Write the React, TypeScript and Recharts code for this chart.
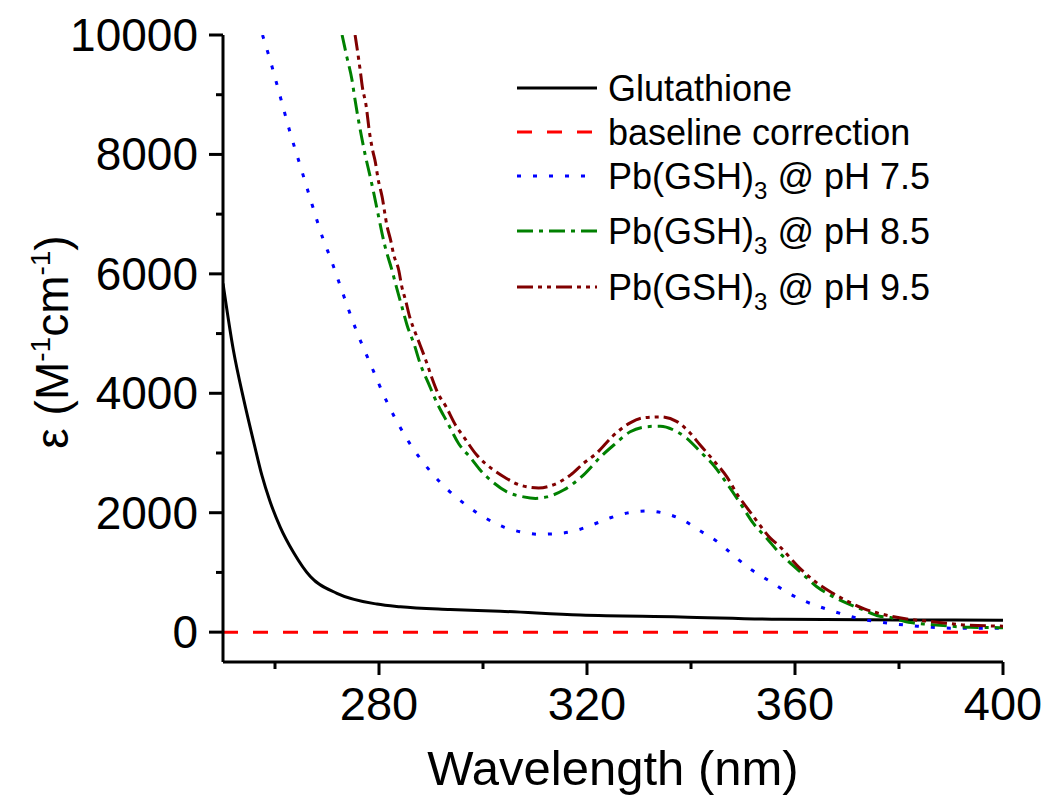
import { LineChart, Line, XAxis, YAxis } from "recharts";

// Glutathione (black solid)
const glutWl = [250, 252, 254, 256, 257.5, 259, 261, 263.6, 266.8, 271.9, 279.6, 284.1, 293.7, 303.3, 318.7, 338, 357.2, 380, 400];
const glutEps = [5840, 4720, 3890, 3150, 2620, 2200, 1760, 1330, 930, 650, 470, 425, 380, 350, 285, 255, 215, 205, 200];

// baseline correction (red dashed)
const baseWl = [250, 300, 350, 400];
const baseEps = [0, 0, 0, 0];

// Pb(GSH)3 @ pH 7.5 (blue dotted)
const ph75Wl = [257.6, 259.1, 261.0, 262.9, 265.0, 267.1, 269.3, 270.6, 273.1, 275.6, 278.5, 281.5, 285.2, 290.2, 293.4, 296.9, 300.3, 304.0, 307.2, 310.7, 314.2, 317.8, 321.1, 324.5, 328.0, 331.5, 334.9, 338.4, 341.7, 345.3, 348.5, 351.7, 355.4, 358.6, 362.1, 365.6, 369.2, 372.6, 375.8, 379.4, 382.9, 386.3, 389.9, 393.4, 400];
const ph75Eps = [10000, 9570, 8970, 8370, 7770, 7170, 6570, 6280, 5660, 5060, 4460, 3860, 3260, 2660, 2370, 2120, 1920, 1760, 1680, 1640, 1650, 1700, 1800, 1915, 2000, 2030, 1990, 1880, 1700, 1500, 1260, 1040, 840, 660, 510, 400, 300, 220, 175, 135, 105, 80, 67, 67, 65];

// Pb(GSH)3 @ pH 8.5 (green dash-dot)
const ph85Wl = [272.9, 273.8, 274.8, 275.4, 276.0, 276.7, 277.4, 278.3, 279.0, 279.8, 281.1, 282.5, 283.5, 284.4, 285.4, 286.8, 287.9, 289.5, 291.2, 293.1, 295.3, 297.7, 299.5, 301.4, 304.6, 307.8, 310.1, 312.3, 315.5, 319.3, 322.6, 325.1, 328.3, 331.5, 334.1, 337.3, 339.2, 341.8, 344.3, 346.9, 349.5, 352.0, 354.6, 356.8, 358.8, 361.7, 364.2, 366.8, 369.3, 373.2, 376.1, 378.3, 382.2, 386.0, 389.9, 393.7, 400];
const ph85Eps = [10000, 9640, 9250, 8910, 8600, 8270, 7970, 7630, 7350, 7010, 6480, 6060, 5730, 5450, 5140, 4810, 4500, 4170, 3830, 3520, 3160, 2910, 2710, 2550, 2350, 2265, 2240, 2265, 2380, 2630, 2935, 3130, 3355, 3440, 3450, 3355, 3245, 3020, 2800, 2490, 2155, 1820, 1570, 1345, 1180, 955, 760, 620, 510, 370, 270, 245, 160, 130, 100, 80, 75];

// Pb(GSH)3 @ pH 9.5 (dark red dash-dot-dot)
const ph95Wl = [275.4, 276.1, 276.4, 276.8, 277.5, 278.2, 278.8, 279.3, 279.8, 280.6, 281.5, 282.3, 282.8, 283.8, 284.4, 285.1, 285.9, 287.0, 287.9, 289.1, 290.2, 291.2, 292.9, 294.7, 296.3, 298.8, 301.8, 304.3, 307.2, 310.7, 313.3, 316.8, 319.3, 321.9, 324.8, 328.3, 330.9, 334.1, 337.3, 339.5, 341.8, 344.3, 346.9, 349.2, 351.1, 353.0, 355.3, 356.8, 361.0, 363.9, 367.1, 369.7, 373.2, 378.3, 381.5, 384.7, 388.6, 392.4, 400];
const ph95Eps = [10000, 9590, 9400, 9130, 8830, 8350, 8060, 7870, 7600, 7290, 6820, 6540, 6330, 6060, 5780, 5560, 5280, 5010, 4810, 4530, 4250, 4025, 3775, 3470, 3270, 2965, 2730, 2585, 2460, 2415, 2460, 2630, 2825, 3000, 3270, 3505, 3590, 3605, 3525, 3365, 3130, 2880, 2600, 2265, 2045, 1820, 1570, 1455, 1065, 845, 660, 535, 395, 270, 220, 190, 155, 120, 100];

const xTicks = [260, 280, 300, 320, 340, 360, 380, 400];
const xMajor = [280, 320, 360, 400];
const yTicks = [0, 1000, 2000, 3000, 4000, 5000, 6000, 7000, 8000, 9000, 10000];
const yMajor = [0, 2000, 4000, 6000, 8000, 10000];

const FONT = "'Liberation Sans', Arial, sans-serif";

const zip = (wl: number[], eps: number[]) => wl.map((x, i) => ({ x, y: eps[i] }));

const SERIES = [
  { name: "Glutathione", data: zip(glutWl, glutEps), color: "#000000", dash: undefined },
  { name: "baseline correction", data: zip(baseWl, baseEps), color: "#ff0000", dash: "15 15" },
  { name: "Pb(GSH)3 @ pH 7.5", data: zip(ph75Wl, ph75Eps), color: "#0000ff", dash: "4 12" },
  { name: "Pb(GSH)3 @ pH 8.5", data: zip(ph85Wl, ph85Eps), color: "#008000", dash: "16 6 4 6" },
  { name: "Pb(GSH)3 @ pH 9.5", data: zip(ph95Wl, ph95Eps), color: "#800000", dash: "16 5 4 5 4 5" },
];

function XTick({ x, y, payload }: any) {
  const major = xMajor.includes(payload.value);
  return (
    <g>
      <line x1={x} x2={x} y1={y} y2={y + (major ? 13 : 7)} stroke="#000" strokeWidth={3} />
      {major && (
        <text x={x} y={y + 58} textAnchor="middle" fontSize={47} fontFamily={FONT} fill="#000">
          {payload.value}
        </text>
      )}
    </g>
  );
}

function YTick({ x, y, payload }: any) {
  const major = yMajor.includes(payload.value);
  return (
    <g>
      <line x1={x} x2={x - (major ? 14 : 7)} y1={y} y2={y} stroke="#000" strokeWidth={3} />
      {major && (
        <text x={x - 25} y={y + 16} textAnchor="end" fontSize={46} fontFamily={FONT} fill="#000">
          {payload.value}
        </text>
      )}
    </g>
  );
}

function XLabel() {
  return (
    <text x={613} y={785} textAnchor="middle" fontSize={49} fontFamily={FONT} fill="#000">
      Wavelength (nm)
    </text>
  );
}

function YLabel() {
  return (
    <text x={68} y={342} transform="rotate(-90 68 342)" textAnchor="middle" fontSize={46} fontFamily={FONT} fill="#000">
      ε (M<tspan dy={-18} fontSize={28}>-1</tspan>
      <tspan dy={18}>cm</tspan>
      <tspan dy={-18} fontSize={28}>-1</tspan>
      <tspan dy={18}>)</tspan>
    </text>
  );
}

// legend drawn outside recharts so row spacing matches the figure
const legendRows = [88, 132, 176, 231, 287];

function LegendBox() {
  return (
    <svg width={1050} height={320} style={{ position: "absolute", left: 0, top: 0, pointerEvents: "none" }}>
      {SERIES.map((s, i) => {
        const cy = legendRows[i];
        const pb = s.name.startsWith("Pb");
        return (
          <g key={s.name}>
            <line x1={517} x2={597} y1={cy} y2={cy} stroke={s.color} strokeWidth={3} strokeDasharray={s.dash} />
            <text x={608} y={cy + 13} fontSize={36} fontFamily={FONT} fill="#000">
              {pb ? (
                <>
                  Pb(GSH)<tspan dy={10} fontSize={24}>3</tspan>
                  <tspan dy={-10}>{s.name.slice(8)}</tspan>
                </>
              ) : (
                s.name
              )}
            </text>
          </g>
        );
      })}
    </svg>
  );
}

export default function App() {
  return (
    <div style={{ position: "absolute", left: 0, top: 0, width: 1050, height: 800, background: "#fff" }}>
      <LineChart width={1050} height={800} margin={{ top: 35, right: 47, bottom: 0, left: 0 }}>
        <XAxis
          type="number" dataKey="x" domain={[250, 400]} ticks={xTicks} interval={0}
          allowDataOverflow height={138} tickSize={0} tickMargin={0} tickLine={false}
          axisLine={{ stroke: "#000", strokeWidth: 3 }} tick={<XTick />} label={<XLabel />}
        />
        <YAxis
          type="number" dataKey="y" domain={[-500, 10000]} ticks={yTicks} interval={0}
          allowDataOverflow width={223} tickSize={0} tickMargin={0} tickLine={false}
          axisLine={{ stroke: "#000", strokeWidth: 3 }} tick={<YTick />} label={<YLabel />}
        />
        {SERIES.map(s => (
          <Line
            key={s.name} data={s.data} dataKey="y" type="monotone" stroke={s.color}
            strokeWidth={3} strokeDasharray={s.dash} dot={false} activeDot={false}
            isAnimationActive={false} legendType="none"
          />
        ))}
      </LineChart>
      <LegendBox />
    </div>
  );
}
